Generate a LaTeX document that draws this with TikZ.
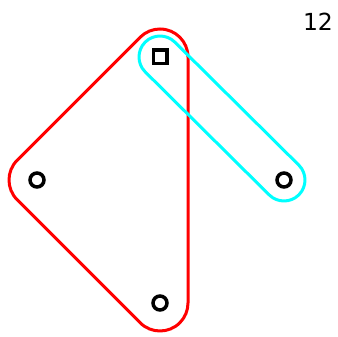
\documentclass[tikz,border=0pt]{standalone}
\usepackage{fontspec}
\setmainfont{DejaVu Sans}
\usetikzlibrary{calc}
\definecolor{aqua}{RGB}{0,255,255}
\definecolor{pure red}{RGB}{255,0,0}
\begin{document}
\begin{tikzpicture}[x=1pt,y=1pt,
  hullred/.style={draw=pure red,line width=3pt,line join=round},
  hullcyan/.style={draw=aqua,line width=3pt,line join=round},
  ptcirc/.style={circle,draw=black,line width=3.5pt,minimum size=14pt,inner sep=0pt},
  ptsq/.style={rectangle,draw=black,line width=3.5pt,minimum size=13.5pt,inner sep=0pt},
  lbl/.style={font=\fontsize{23.5}{23.5}\selectfont,inner sep=0pt}]
\useasboundingbox (0,0) rectangle (338,337);
\coordinate (S) at (160,280);
\coordinate (L) at (37,157);
\coordinate (B) at (160,34);
\coordinate (R) at (284,157);
% red hull
\draw[hullred] ($(S)+(0:28)$) arc[start angle=0,end angle=135,radius=28]
  -- ($(L)+(135:28)$) arc[start angle=135,end angle=225,radius=28]
  -- ($(B)+(225:28)$) arc[start angle=225,end angle=360,radius=28]
  -- cycle;
% cyan hull
\draw[hullcyan] ($(S)+(45:21)$) -- ($(R)+(45:21)$) arc[start angle=45,end angle=-135,radius=21]
  -- ($(S)+(-135:21)$) arc[start angle=225,end angle=45,radius=21] -- cycle;
\node[ptsq] (nS) at (S) {};
\node[ptcirc] (nL) at (L) {};
\node[ptcirc] (nB) at (B) {};
\node[ptcirc] (nR) at (R) {};
\node[lbl] (t) at (318,315) {12};
\end{tikzpicture}
\end{document}
